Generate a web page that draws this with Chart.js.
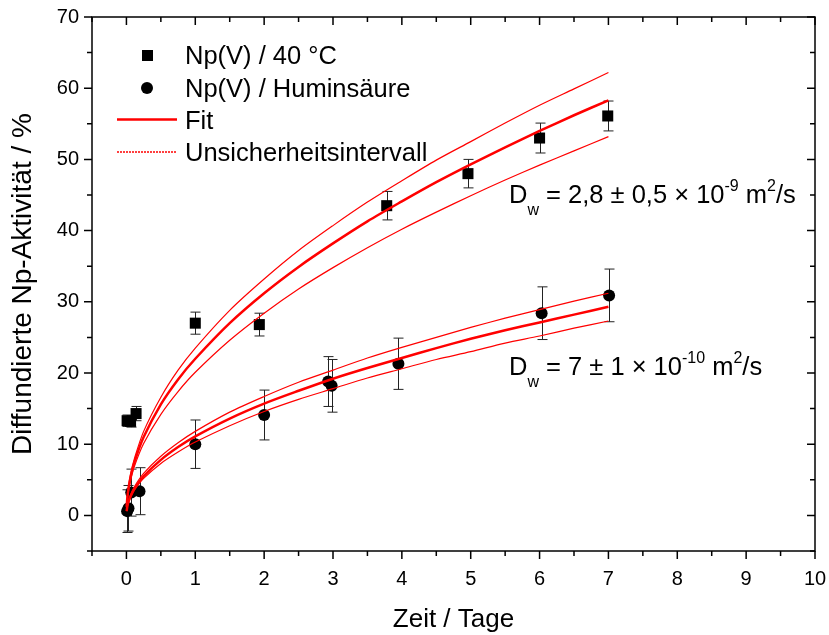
<!DOCTYPE html>
<html>
<head>
<meta charset="utf-8">
<script src="https://cdn.jsdelivr.net/npm/chart.js@4.4.0/dist/chart.umd.min.js"></script>
<style>
  html, body { margin: 0; padding: 0; background: #fff; }
</style>
</head>
<body>
<canvas id="c" width="829" height="635"></canvas>
<script>
// measured points, Np(V) / 40 °C
const tempT = [0.01, 0.06, 0.14, 1.0, 1.93, 3.78, 4.96, 6.0, 6.99]
const tempY = [13.3, 13.2, 14.3, 27.0, 26.8, 43.5, 48.0, 53.0, 56.1]
const tempErr = [0.8, 0.8, 1.0, 1.55, 1.6, 2.0, 2.0, 2.1, 2.1]

// measured points, Np(V) / Huminsäure
const humT = [0.01, 0.03, 0.07, 0.19, 1.0, 2.0, 2.93, 2.98, 3.95, 6.03, 7.01]
const humY = [0.6, 1.0, 3.2, 3.4, 10.0, 14.1, 18.8, 18.2, 21.3, 28.4, 30.9]
const humErr = [3.0, 3.2, 3.3, 3.3, 3.4, 3.5, 3.5, 3.7, 3.6, 3.7, 3.7]

// fit curves
const curveT = [0.003, 0.02, 0.06, 0.12, 0.25, 0.5, 0.75, 1, 1.5, 2, 2.5, 3, 3.5, 4, 4.5, 5, 5.5, 6, 6.5, 7]
const tempFit = [1.2, 3.1, 5.4, 7.6, 11.0, 15.6, 19.1, 22.0, 27.0, 31.2, 34.9, 38.2, 41.3, 44.1, 46.8, 49.3, 51.7, 54.0, 56.2, 58.3]
const tempUpper = [1.3, 3.3, 5.8, 8.1, 11.8, 16.6, 20.4, 23.5, 28.8, 33.2, 37.2, 40.7, 44.0, 47.0, 49.9, 52.5, 55.1, 57.6, 59.9, 62.2]
const tempLower = [1.1, 2.8, 4.9, 7.0, 10.1, 14.2, 17.4, 20.1, 24.6, 28.4, 31.8, 34.8, 37.6, 40.2, 42.6, 44.9, 47.1, 49.2, 51.2, 53.2]
const humFit = [0.6, 1.6, 2.7, 3.8, 5.5, 7.8, 9.6, 11.1, 13.6, 15.7, 17.5, 19.2, 20.7, 22.1, 23.5, 24.8, 26.0, 27.1, 28.2, 29.3]
const humUpper = [0.6, 1.7, 2.9, 4.1, 5.9, 8.3, 10.2, 11.8, 14.5, 16.7, 18.7, 20.4, 22.1, 23.6, 25.0, 26.4, 27.7, 28.9, 30.1, 31.2]
const humLower = [0.6, 1.5, 2.5, 3.6, 5.2, 7.3, 8.9, 10.3, 12.6, 14.6, 16.3, 17.8, 19.3, 20.6, 21.9, 23.0, 24.2, 25.2, 26.3, 27.3]

const legendLabels = ['Np(V) / 40 °C', 'Np(V) / Huminsäure', 'Fit', 'Unsicherheitsintervall']

const FONT = 'Arial, "Liberation Sans", sans-serif'
const RED = '#ff0000'

const pts = (xs, ys) => xs.map((x, i) => ({ x, y: ys[i] }))

const curve = (ys, width) => ({
  data: pts(curveT, ys),
  showLine: true,
  borderColor: RED,
  borderWidth: width,
  pointRadius: 0,
  tension: 0.3,
  order: 0
})

const errorBars = {
  id: 'errorBars',
  beforeDatasetsDraw(chart) {
    const { ctx, scales: { x, y } } = chart
    ctx.save()
    ctx.strokeStyle = '#222'
    ctx.lineWidth = 1
    const sets = [[tempT, tempY, tempErr], [humT, humY, humErr]]
    sets.forEach(([ts, ys, es]) => {
      ts.forEach((t, i) => {
        const px = Math.round(x.getPixelForValue(t)) + 0.5
        const top = y.getPixelForValue(ys[i] + es[i])
        const bot = y.getPixelForValue(ys[i] - es[i])
        ctx.beginPath()
        ctx.moveTo(px, top); ctx.lineTo(px, bot)
        ctx.moveTo(px - 5, top); ctx.lineTo(px + 5, top)
        ctx.moveTo(px - 5, bot); ctx.lineTo(px + 5, bot)
        ctx.stroke()
      })
    })
    ctx.restore()
  }
}

function drawRich(ctx, x, y, parts) {
  parts.forEach(([text, size, dy]) => {
    ctx.font = size + 'px ' + FONT
    ctx.fillText(text, x, y + dy)
    x += ctx.measureText(text).width
  })
}

const frame = {
  id: 'frame',
  afterDraw(chart) {
    const { ctx, chartArea: a, scales: { x, y } } = chart
    ctx.save()
    ctx.strokeStyle = '#000'
    ctx.lineWidth = 1.5
    ctx.strokeRect(a.left, a.top, a.right - a.left, a.bottom - a.top)
    ctx.beginPath()
    for (let v = -0.5; v <= 10.001; v += 0.5) {
      const px = x.getPixelForValue(v)
      const len = Math.abs(v - Math.round(v)) < 0.01 ? 8 : 5
      ctx.moveTo(px, a.bottom); ctx.lineTo(px, a.bottom + len)
      ctx.moveTo(px, a.top); ctx.lineTo(px, a.top + len)
    }
    for (let v = -5; v <= 70.001; v += 5) {
      const py = y.getPixelForValue(v)
      const len = v % 10 === 0 ? 8 : 5
      ctx.moveTo(a.left, py); ctx.lineTo(a.left - len, py)
      ctx.moveTo(a.right, py); ctx.lineTo(a.right - len, py)
    }
    ctx.stroke()

    // legend
    ctx.fillStyle = '#000'
    ctx.font = '25.5px ' + FONT
    ctx.textBaseline = 'alphabetic'
    const lx = 185
    const rows = [64, 97, 129, 161]
    ctx.fillRect(142, 50, 11, 11)
    ctx.beginPath(); ctx.arc(147, 88, 6, 0, Math.PI * 2); ctx.fill()
    ctx.strokeStyle = RED
    ctx.lineWidth = 2.5
    ctx.beginPath(); ctx.moveTo(117, 119.5); ctx.lineTo(177, 119.5); ctx.stroke()
    ctx.lineWidth = 1.5
    ctx.setLineDash([2, 1])
    ctx.beginPath(); ctx.moveTo(117, 152); ctx.lineTo(177, 152); ctx.stroke()
    ctx.setLineDash([])
    legendLabels.forEach((s, i) => ctx.fillText(s, lx, rows[i]))

    // diffusion coefficients
    drawRich(ctx, 509, 203, [['D', 25.5, 0], ['w', 16, 12], [' = 2,8 ± 0,5 × 10', 25.5, 0], ['-9', 16, -12], [' m', 25.5, 0], ['2', 16, -12], ['/s', 25.5, 0]])
    drawRich(ctx, 509, 375, [['D', 25.5, 0], ['w', 16, 12], [' = 7 ± 1 × 10', 25.5, 0], ['-10', 16, -12], [' m', 25.5, 0], ['2', 16, -12], ['/s', 25.5, 0]])
    ctx.restore()
  }
}

new Chart(document.getElementById('c'), {
  type: 'scatter',
  data: {
    datasets: [
      curve(tempFit, 2.5),
      curve(tempUpper, 1.2),
      curve(tempLower, 1.2),
      curve(humFit, 2.5),
      curve(humUpper, 1.2),
      curve(humLower, 1.2),
      {
        data: pts(tempT, tempY),
        pointStyle: 'rect',
        pointRadius: 7.8,
        backgroundColor: '#000',
        borderWidth: 0,
        order: 1
      },
      {
        data: pts(humT, humY),
        pointStyle: 'circle',
        pointRadius: 6,
        backgroundColor: '#000',
        borderWidth: 0,
        order: 1
      }
    ]
  },
  options: {
    responsive: false,
    animation: false,
    layout: { padding: { top: 17, right: 14, left: 0, bottom: 0 } },
    plugins: {
      legend: { display: false },
      tooltip: { enabled: false }
    },
    scales: {
      x: {
        type: 'linear',
        min: -0.5,
        max: 10,
        afterFit: s => {
          s.height = 84
          s.paddingLeft = 0
          s.paddingRight = 0
        },
        grid: { display: false, drawTicks: false },
        border: { display: false },
        ticks: {
          stepSize: 1,
          includeBounds: false,
          maxRotation: 0,
          padding: 16,
          color: '#000',
          font: { family: FONT, size: 20 }
        },
        title: {
          display: true,
          text: 'Zeit / Tage',
          color: '#000',
          font: { family: FONT, size: 26 },
          padding: { top: 0, bottom: 0 }
        }
      },
      y: {
        min: -5,
        max: 70,
        afterFit: s => {
          s.width = 92
          s.paddingTop = 0
          s.paddingBottom = 0
        },
        grid: { display: false, drawTicks: false },
        border: { display: false },
        ticks: {
          stepSize: 10,
          includeBounds: false,
          padding: 13,
          color: '#000',
          font: { family: FONT, size: 20 }
        },
        title: {
          display: true,
          text: 'Diffundierte Np-Aktivität / %',
          color: '#000',
          font: { family: FONT, size: 28 },
          padding: { top: 6, bottom: 0 }
        }
      }
    }
  },
  plugins: [errorBars, frame]
})
</script>
</body>
</html>
